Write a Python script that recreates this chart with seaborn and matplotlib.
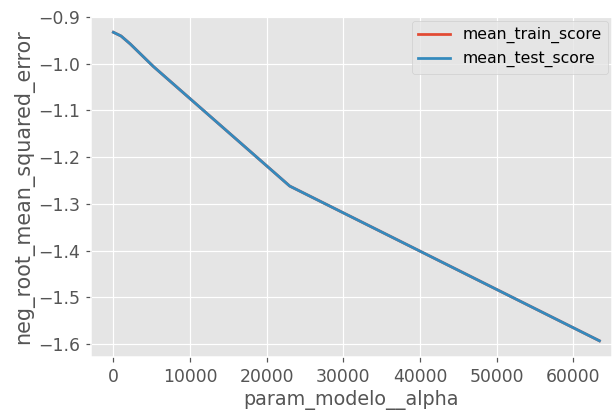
import matplotlib
matplotlib.use("Agg")
import matplotlib.pyplot as plt
import seaborn as sns
import pandas as pd

alpha = [0, 1000, 2200, 5200, 23000, 63400]
mean_train_score = [-0.933, -0.941, -0.958, -1.006, -1.262, -1.593]
mean_test_score = [-0.933, -0.941, -0.958, -1.006, -1.262, -1.593]

plt.style.use("ggplot")
fig = plt.figure(figsize=(616 / 110, 411 / 110), dpi=110)
ax = fig.add_axes([0.148, 0.131, 0.845, 0.828])

df = pd.DataFrame({"param_modelo__alpha": alpha,
                   "mean_train_score": mean_train_score,
                   "mean_test_score": mean_test_score})
sns.lineplot(data=df, x="param_modelo__alpha", y="mean_train_score",
             color="#E24A33", label="mean_train_score", ax=ax, linewidth=1.8)
sns.lineplot(data=df, x="param_modelo__alpha", y="mean_test_score",
             color="#348ABD", label="mean_test_score", ax=ax, linewidth=1.8)

ax.set_xlim(-2900, 65000)
ax.set_ylim(-1.628, -0.9)
ax.set_xticks([0, 10000, 20000, 30000, 40000, 50000, 60000])
ax.set_yticks([-0.9, -1.0, -1.1, -1.2, -1.3, -1.4, -1.5, -1.6])
ax.tick_params(labelsize=11.3)
ax.set_xlabel("param_modelo__alpha", fontsize=12.5, labelpad=3)
ax.set_ylabel("neg_root_mean_squared_error", fontsize=13.5, labelpad=3)
ax.legend(loc="upper right", bbox_to_anchor=(1.0, 1.0), borderaxespad=0.25,
          fontsize=10.3)

fig.savefig("out.png", dpi=110)
